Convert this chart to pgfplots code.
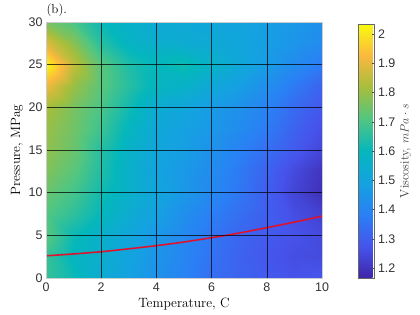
\documentclass[border=0pt]{standalone}
\usepackage{pgfplots}
\pgfplotsset{compat=1.18}
\usepackage{fontspec}
\newfontfamily\ticksf{Liberation Sans}
\pgfplotsset{colormap={parula}{rgb255=(62,38,168) rgb255=(70,84,236) rgb255=(42,128,245) rgb255=(20,162,225) rgb255=(4,183,188) rgb255=(80,198,130) rgb255=(165,190,60) rgb255=(250,184,62) rgb255=(249,251,14)}}
\definecolor{curvered}{RGB}{222,18,45}
\begin{document}
\begin{tikzpicture}
\begin{axis}[
  name=main,
  scale only axis, width=276bp, height=256bp,
  xmin=0, xmax=10, ymin=0, ymax=30,
  xtick={0,2,...,10}, ytick={0,5,...,30},
  grid=major, grid style={black, opacity=0.72, line width=0.6pt},
  axis on top,
  major tick length=0pt,
  axis line style={draw=black!20},
  /pgf/number format/assume math mode=true,
  tick label style={font=\ticksf\fontsize{12.5}{14}\selectfont, text=black!80},
  xticklabel style={yshift=-1bp},
  label style={font=\fontsize{13.5}{15}\selectfont},
  xlabel={Temperature, C},
  ylabel={Pressure, MPag},
  xlabel style={yshift=0bp},
  ylabel style={yshift=-1bp},
  title={(b).},
  title style={at={(0,1)}, anchor=south west, xshift=-3bp, yshift=-4bp, font=\fontsize{13}{14}\selectfont},
  colormap name=parula,
  point meta min=1.166, point meta max=2.034,
  colorbar,
  colorbar style={
    at={(parent axis.south east)}, anchor=south west, xshift=28bp,
    width=16bp, height=254bp, scale only axis,
    ytick={1.2,1.3,1.4,1.5,1.6,1.7,1.8,1.9,2.0},
    tick align=inside, ytick pos=right, yticklabel pos=right,
    major tick length=3bp,
    ytick style={draw=black!70, line width=0.4pt},
    axis line style={draw=black!60, line width=0.4pt},
    /pgf/number format/assume math mode=true,
    yticklabel style={font=\ticksf\fontsize{12.5}{14}\selectfont, text=black!80},
    ylabel={Viscosity, $mPa\cdot s$},
    ylabel style={font=\fontsize{12.5}{14}\selectfont, text=black!75, yshift=2bp},
  },
]
\addplot[surf, shader=interp, mesh/cols=11, point meta=\thisrow{v}] table {
T P v
0 0 1.67
1 0 1.61
2 0 1.54
3 0 1.49
4 0 1.44
5 0 1.39
6 0 1.34
7 0 1.31
8 0 1.29
9 0 1.27
10 0 1.28

0 2.5 1.67
1 2.5 1.59
2 2.5 1.55
3 2.5 1.50
4 2.5 1.45
5 2.5 1.40
6 2.5 1.35
7 2.5 1.31
8 2.5 1.28
9 2.5 1.26
10 2.5 1.25

0 5 1.72
1 5 1.61
2 5 1.56
3 5 1.51
4 5 1.46
5 5 1.41
6 5 1.36
7 5 1.32
8 5 1.29
9 5 1.27
10 5 1.25

0 7.5 1.71
1 7.5 1.66
2 7.5 1.60
3 7.5 1.54
4 7.5 1.49
5 7.5 1.43
6 7.5 1.38
7 7.5 1.34
8 7.5 1.30
9 7.5 1.26
10 7.5 1.23

0 10 1.74
1 10 1.69
2 10 1.62
3 10 1.56
4 10 1.51
5 10 1.46
6 10 1.41
7 10 1.36
8 10 1.30
9 10 1.24
10 10 1.19

0 12.5 1.77
1 12.5 1.72
2 12.5 1.64
3 12.5 1.56
4 12.5 1.50
5 12.5 1.46
6 12.5 1.42
7 12.5 1.37
8 12.5 1.31
9 12.5 1.25
10 12.5 1.20

0 15 1.79
1 15 1.74
2 15 1.65
3 15 1.57
4 15 1.51
5 15 1.48
6 15 1.44
7 15 1.39
8 15 1.34
9 15 1.29
10 15 1.24

0 17.5 1.80
1 17.5 1.75
2 17.5 1.68
3 17.5 1.59
4 17.5 1.52
5 17.5 1.49
6 17.5 1.46
7 17.5 1.42
8 17.5 1.37
9 17.5 1.31
10 17.5 1.26

0 20 1.82
1 20 1.76
2 20 1.70
3 20 1.62
4 20 1.54
5 20 1.51
6 20 1.47
7 20 1.44
8 20 1.39
9 20 1.33
10 20 1.28

0 22.5 1.91
1 22.5 1.80
2 22.5 1.72
3 22.5 1.65
4 22.5 1.59
5 22.5 1.57
6 22.5 1.52
7 22.5 1.48
8 22.5 1.43
9 22.5 1.37
10 22.5 1.31

0 25 2.03
1 25 1.85
2 25 1.72
3 25 1.64
4 25 1.60
5 25 1.62
6 25 1.57
7 25 1.52
8 25 1.47
9 25 1.42
10 25 1.37

0 27.5 1.89
1 27.5 1.78
2 27.5 1.65
3 27.5 1.58
4 27.5 1.55
5 27.5 1.54
6 27.5 1.53
7 27.5 1.51
8 27.5 1.48
9 27.5 1.45
10 27.5 1.42

0 30 1.76
1 30 1.70
2 30 1.61
3 30 1.56
4 30 1.53
5 30 1.52
6 30 1.51
7 30 1.50
8 30 1.48
9 30 1.46
10 30 1.44
};
\addplot[curvered, line width=1.6pt, smooth] coordinates {
(0,2.60) (1,2.82) (2,3.08) (3,3.42) (4,3.79) (5,4.22) (6,4.72) (7,5.27) (8,5.90) (9,6.55) (10,7.25)
};
\end{axis}
\path (main.south west) ++(-46bp,-37bp) rectangle ++(420bp,315bp);
\end{tikzpicture}
\end{document}
